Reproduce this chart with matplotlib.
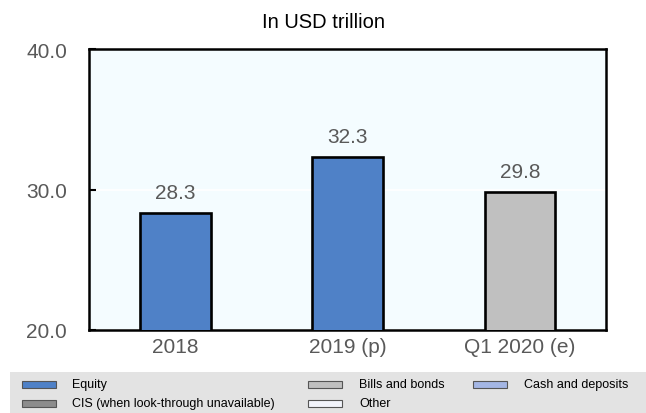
import matplotlib.pyplot as plt
from matplotlib.patches import Rectangle

categories = ['2018', '2019 (p)', 'Q1 2020 (e)']
equity = [28.3, 32.3, 0.0]
bills_and_bonds = [0.0, 0.0, 29.8]
totals = [28.3, 32.3, 29.8]

legend_labels = ['Equity', 'CIS (when look-through unavailable)', 'Bills and bonds',
                 'Other', 'Cash and deposits']
legend_colors = ['#4f81c7', '#8c8c8c', '#c0c0c0', '#f2f4fb', '#a4b6e4']

plt.rcParams['font.family'] = ['Liberation Sans', 'DejaVu Sans']

W, H = 646, 414
fig = plt.figure(figsize=(W / 100, H / 100), dpi=100)
fig.patches.append(Rectangle((10 / W, 0.0), 1 - 10 / W, 41 / H, transform=fig.transFigure,
                             facecolor='#e3e3e3', edgecolor='none', zorder=0))

ax = fig.add_axes([0.138, 0.2005, 0.8, 0.6785])
ax.set_facecolor('#f4fcff')

x = range(len(categories))
ax.bar(x, equity, width=0.41, color=legend_colors[0], edgecolor='black', linewidth=1.9, zorder=3)
ax.bar(x, bills_and_bonds, width=0.41, color=legend_colors[2], edgecolor='black', linewidth=1.9, zorder=3)

for i, v in enumerate(totals):
    ax.annotate(f'{v:.1f}', (i, v), xytext=(0, 8), textcoords='offset points',
                ha='center', va='bottom', fontsize=15, color='#595959')

ax.set_xlim(-0.5, 2.5)
ax.set_ylim(20, 40)
ax.set_yticks([20, 30, 40])
ax.set_yticklabels(['20.0', '30.0', '40.0'])
ax.set_xticks(list(x))
ax.set_xticklabels(categories)
ax.tick_params(axis='y', direction='in', length=5, width=1.5, colors='black',
               labelcolor='#595959', labelsize=15, pad=16)
ax.tick_params(axis='x', length=0, labelcolor='#595959', labelsize=15, pad=5)
ax.grid(axis='y', color='white', linewidth=1.2, zorder=1)
for s in ax.spines.values():
    s.set_color('black')
    s.set_linewidth(1.8)

fig.text(0.5, 0.945, 'In USD trillion', ha='center', va='center', fontsize=14.5)

# legend drawn by hand: (box left px, text left px, row) per entry
legend_slots = [(22, 72, 0), (22, 72, 1), (308, 359, 0), (308, 359, 1), (473, 524, 0)]
for (bx, tx, row), lab, col in zip(legend_slots, legend_labels, legend_colors):
    cy = 385 + row * 19
    fig.patches.append(Rectangle((bx / W, 1 - (cy + 3.5) / H), 34 / W, 7 / H,
                                 transform=fig.transFigure, facecolor=col,
                                 edgecolor='#555555', linewidth=0.8))
    fig.text(tx / W, 1 - cy / H, lab, ha='left', va='center', fontsize=9)

fig.savefig('out.png', dpi=100)
